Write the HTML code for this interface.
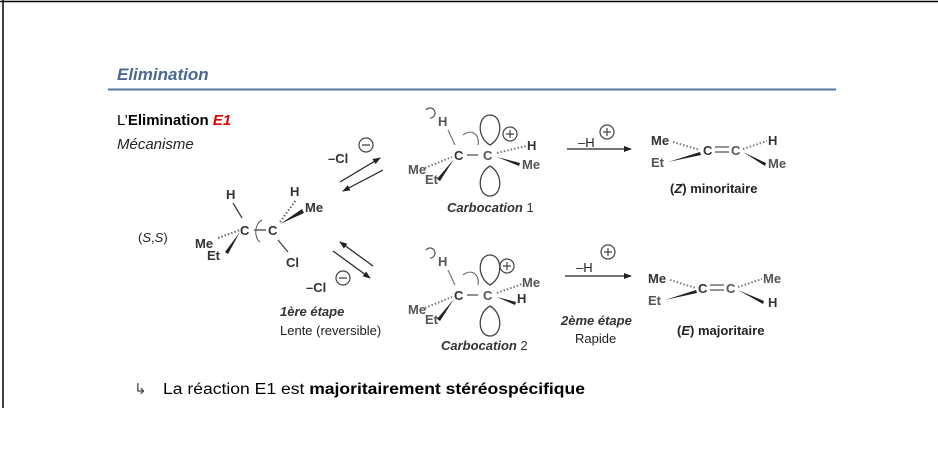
<!DOCTYPE html>
<html><head><meta charset="utf-8"><style>
html,body{margin:0;padding:0;background:#fff;width:938px;height:460px;overflow:hidden}
svg{display:block}
.m{font-family:"Liberation Sans",Arial,sans-serif;font-weight:bold;font-size:13px;fill:#333}
.g{fill:#555}
.n{font-family:"Liberation Sans",Arial,sans-serif;font-size:13px;fill:#222}
</style></head><body>
<svg width="938" height="460" viewBox="0 0 938 460" xmlns="http://www.w3.org/2000/svg">
<defs>
<marker id="ah" markerWidth="8" markerHeight="6" refX="7" refY="3" orient="auto" markerUnits="userSpaceOnUse"><path d="M0,0 L8,3 L0,6 z" fill="#222"/></marker>
<g id="lobe"><path d="M0,0 C-14,-8 -12,-30 0,-30 C12,-30 14,-8 0,0z" fill="none" stroke="#444" stroke-width="1.3"/></g>
<g id="plus"><circle r="7" fill="none" stroke="#444" stroke-width="1.2"/><path d="M-4,0H4M0,-4V4" stroke="#444" stroke-width="1.2"/></g>
<g id="minus"><circle r="7" fill="none" stroke="#444" stroke-width="1.2"/><path d="M-4,0H4" stroke="#444" stroke-width="1.3"/></g>
</defs>
<line x1="0" y1="1.5" x2="938" y2="1.5" stroke="#000" stroke-width="1.5"/>
<line x1="3" y1="0" x2="3" y2="408" stroke="#000" stroke-width="1.5"/>
<text x="117" y="80" font-family="Liberation Sans,sans-serif" font-style="italic" font-weight="bold" font-size="17" fill="#4a6894">Elimination</text>
<line x1="108" y1="89.5" x2="836" y2="89.5" stroke="#5a7aa0" stroke-width="2"/>
<text x="117" y="125" font-family="Liberation Sans,sans-serif" font-size="15" fill="#000">L’<tspan font-weight="bold">Elimination </tspan><tspan font-weight="bold" font-style="italic" fill="#e00000">E1</tspan></text>
<text x="117" y="149" font-family="Liberation Sans,sans-serif" font-size="15" font-style="italic" fill="#222">Mécanisme</text>

<!-- starting molecule -->
<text x="138" y="242" class="n" font-size="14">(<tspan font-style="italic">S</tspan>,<tspan font-style="italic">S</tspan>)</text>
<text x="226" y="199" class="m">H</text>
<line x1="233" y1="203" x2="242" y2="218" stroke="#444" stroke-width="1.3"/>
<text x="240" y="235" class="m">C</text>
<text x="268" y="235" class="m">C</text>
<path d="M254,230 H266" stroke="#444" stroke-width="1.3"/>
<path d="M262,220 C254,224 254,238 260,242" fill="none" stroke="#555" stroke-width="1"/>
<line x1="218" y1="238" x2="240" y2="230" stroke="#666" stroke-width="2" stroke-dasharray="1.5,2"/>
<path d="M240,232 L225,252 L228,254 z" fill="#222"/>
<text x="195" y="248" class="m">Me</text><text x="207" y="260" class="m">Et</text>
<text x="290" y="196" class="m">H</text>
<line x1="280" y1="222" x2="296" y2="200" stroke="#666" stroke-width="2" stroke-dasharray="1.5,2"/>
<path d="M280,224 L302,209 L304,213 z" fill="#222"/>
<text x="305" y="212" class="m">Me</text>
<line x1="278" y1="240" x2="288" y2="252" stroke="#444" stroke-width="1.3"/>
<text x="286" y="267" class="m">Cl</text>

<!-- equilibrium arrows -->
<text x="328" y="163" class="m" font-size="14">–Cl</text>
<use href="#minus" x="366" y="145"/>
<line x1="340" y1="182" x2="380" y2="158" stroke="#222" stroke-width="1.2" marker-end="url(#ah)"/>
<line x1="383" y1="170" x2="343" y2="191" stroke="#222" stroke-width="1.2" marker-end="url(#ah)"/>
<line x1="373" y1="266" x2="340" y2="242" stroke="#222" stroke-width="1.2" marker-end="url(#ah)"/>
<line x1="333" y1="251" x2="370" y2="278" stroke="#222" stroke-width="1.2" marker-end="url(#ah)"/>
<text x="306" y="292" class="m" font-size="14">–Cl</text>
<use href="#minus" x="343" y="278"/>
<text x="280" y="316" class="m" font-style="italic" font-size="12">1ère étape</text>
<text x="280" y="335" class="n">Lente (reversible)</text>

<!-- carbocation 1 -->
<g id="cc1">
<path d="M426,110 a5,5 0 1 1 4,8" fill="none" stroke="#555" stroke-width="1.2"/>
<text x="438" y="126" class="m g">H</text>
<line x1="448" y1="130" x2="455" y2="145" stroke="#777" stroke-width="1.2"/>
<text x="454" y="160" class="m">C</text>
<line x1="467" y1="155" x2="478" y2="155" stroke="#555" stroke-width="1.3"/>
<text x="483" y="160" class="m g">C</text>
<path d="M463,135 C472,128 480,135 478,145" fill="none" stroke="#555" stroke-width="1"/>
<use href="#lobe" x="490" y="145"/>
<use href="#lobe" x="490" y="166" transform="rotate(180 490 166)"/>
<line x1="425" y1="168" x2="452" y2="157" stroke="#777" stroke-width="2" stroke-dasharray="1.5,2"/>
<path d="M454,159 L437,179 L440,181 z" fill="#222"/>
<text x="408" y="174" class="m g">Me</text><text x="425" y="184" class="m g">Et</text>
</g>
<use href="#plus" x="510" y="134"/>
<line x1="497" y1="153" x2="526" y2="146" stroke="#777" stroke-width="2" stroke-dasharray="1.5,2"/>
<text x="527" y="150" class="m">H</text>
<path d="M497,157 L520,163 L519,166 z" fill="#222"/>
<text x="522" y="169" class="m g">Me</text>
<text x="447" y="212" class="m" font-style="italic" font-size="13">Carbocation <tspan font-style="normal" font-weight="normal">1</tspan></text>

<!-- carbocation 2 -->
<use href="#cc1" y="140"/>
<use href="#plus" x="507" y="266"/>
<line x1="497" y1="293" x2="522" y2="284" stroke="#777" stroke-width="2" stroke-dasharray="1.5,2"/>
<text x="522" y="287" class="m g">Me</text>
<path d="M497,297 L516,302 L515,305 z" fill="#222"/>
<text x="517" y="303" class="m">H</text>
<text x="441" y="350" class="m" font-style="italic" font-size="13">Carbocation <tspan font-style="normal" font-weight="normal">2</tspan></text>

<!-- -H+ arrows -->
<text x="578" y="147" class="n" font-size="14">–H</text>
<use href="#plus" x="607" y="132"/>
<line x1="567" y1="149" x2="631" y2="149" stroke="#222" stroke-width="1.2" marker-end="url(#ah)"/>
<text x="576" y="272" class="n" font-size="14">–H</text>
<use href="#plus" x="608" y="252"/>
<line x1="565" y1="276" x2="631" y2="276" stroke="#222" stroke-width="1.2" marker-end="url(#ah)"/>
<text x="561" y="325" class="m" font-style="italic" font-size="12">2ème étape</text>
<text x="575" y="343" class="n">Rapide</text>

<!-- Z alkene -->
<text x="651" y="145" class="m">Me</text>
<line x1="673" y1="142" x2="700" y2="150" stroke="#777" stroke-width="2" stroke-dasharray="1.5,2"/>
<text x="651" y="167" class="m g">Et</text>
<path d="M668,162 L700,152 L701,155 z" fill="#222"/>
<text x="703" y="155" class="m">C</text>
<path d="M715,147 H729 M715,152 H729" stroke="#555" stroke-width="1.2"/>
<text x="731" y="155" class="m g">C</text>
<line x1="743" y1="149" x2="767" y2="141" stroke="#777" stroke-width="2" stroke-dasharray="1.5,2"/>
<text x="768" y="145" class="m">H</text>
<path d="M743,152 L766,163 L765,166 z" fill="#222"/>
<text x="768" y="168" class="m g">Me</text>
<text x="670" y="193" class="n" font-weight="bold" font-size="13">(<tspan font-style="italic">Z</tspan>) minoritaire</text>

<!-- E alkene -->
<text x="648" y="283" class="m">Me</text>
<line x1="670" y1="280" x2="696" y2="288" stroke="#777" stroke-width="2" stroke-dasharray="1.5,2"/>
<text x="648" y="305" class="m g">Et</text>
<path d="M665,300 L696,290 L697,293 z" fill="#222"/>
<text x="698" y="293" class="m">C</text>
<path d="M710,285 H724 M710,290 H724" stroke="#555" stroke-width="1.2"/>
<text x="726" y="293" class="m g">C</text>
<line x1="738" y1="287" x2="762" y2="279" stroke="#777" stroke-width="2" stroke-dasharray="1.5,2"/>
<text x="763" y="283" class="m g">Me</text>
<path d="M738,290 L764,301 L763,304 z" fill="#222"/>
<text x="768" y="307" class="m">H</text>
<text x="677" y="335" class="n" font-weight="bold" font-size="13">(<tspan font-style="italic">E</tspan>) majoritaire</text>

<!-- conclusion -->
<text x="134" y="394" font-family="DejaVu Sans,sans-serif" font-size="15" fill="#444">↳</text>
<text x="163" y="394" font-family="Liberation Sans,sans-serif" font-size="15.5" fill="#000" textLength="422" lengthAdjust="spacingAndGlyphs">La réaction E1 est <tspan font-weight="bold">majoritairement stéréospécifique</tspan></text>
</svg>
</body></html>
